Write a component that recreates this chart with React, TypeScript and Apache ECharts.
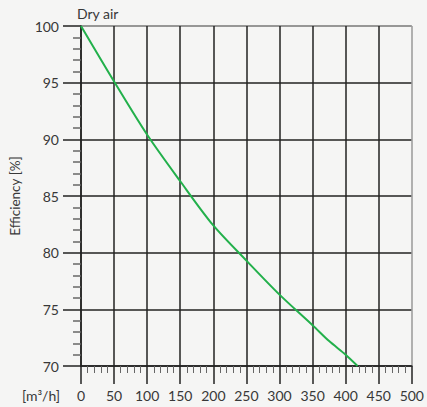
import React, { useEffect, useRef } from "react";
import * as echarts from "echarts";

const airflow = [0, 50, 100, 150, 200, 250, 300, 350, 375, 400, 418];
const efficiency = [100, 95.1, 90.4, 86.3, 82.4, 79.3, 76.3, 73.6, 72.2, 71.0, 70.0];
const title = "Dry air";
const yName = "Efficiency [%]";
const xUnit = "[m³/h]";

export default function App() {
  const ref = useRef<HTMLDivElement>(null);
  useEffect(() => {
    document.body.style.margin = "0";
    const chart = echarts.init(ref.current!, undefined, { renderer: "svg" });
    const font = "Lato, 'Noto Sans', sans-serif";
    const dark = "#222";
    const txt = "#383838";
    chart.setOption({
      animation: false,
      backgroundColor: "#f5f5f4",
      textStyle: { fontFamily: font },
      grid: { left: 75, top: 26, width: 340, height: 340 },
      graphic: [
        { type: "text", left: 77, top: 6, style: { text: title, fontSize: 14, fill: txt, fontFamily: font } },
        { type: "text", left: 22, top: 388, style: { text: xUnit, fontSize: 14, fill: txt, fontFamily: font } },
      ],
      xAxis: {
        type: "value",
        min: 0,
        max: 500,
        interval: 50,
        axisLine: { show: true, lineStyle: { color: dark, width: 1.5 } },
        axisTick: { show: true, length: 18, lineStyle: { color: dark, width: 1.5 } },
        minorTick: { show: true, splitNumber: 5, length: 7, lineStyle: { color: "#666", width: 1 } },
        axisLabel: { margin: 22, fontSize: 14, color: txt, fontFamily: font },
        splitLine: {
          show: true,
          lineStyle: {
            color: [dark, dark, dark, dark, dark, dark, dark, dark, dark, dark, "#999"],
            width: 1.5,
          },
        },
      },
      yAxis: {
        type: "value",
        min: 70,
        max: 100,
        interval: 5,
        name: yName,
        nameLocation: "middle",
        nameGap: 59,
        nameTextStyle: { fontSize: 13.5, color: txt, fontFamily: font },
        axisLine: { show: true, lineStyle: { color: dark, width: 1.5 } },
        axisTick: { show: true, length: 18, lineStyle: { color: dark, width: 1.5 } },
        minorTick: { show: true, splitNumber: 5, length: 8, lineStyle: { color: "#666", width: 1.5 } },
        axisLabel: { margin: 22, fontSize: 14, color: txt, fontFamily: font },
        splitLine: {
          show: true,
          lineStyle: { color: [dark, dark, dark, dark, dark, dark, "#777"], width: 1.5 },
        },
      },
      series: [
        {
          type: "line",
          data: airflow.map((x, i) => [x, efficiency[i]]),
          smooth: 0.3,
          showSymbol: false,
          lineStyle: { color: "#22b04b", width: 2 },
        },
      ],
    });
    return () => chart.dispose();
  }, []);
  return <div ref={ref} style={{ width: 427, height: 407 }} />;
}
